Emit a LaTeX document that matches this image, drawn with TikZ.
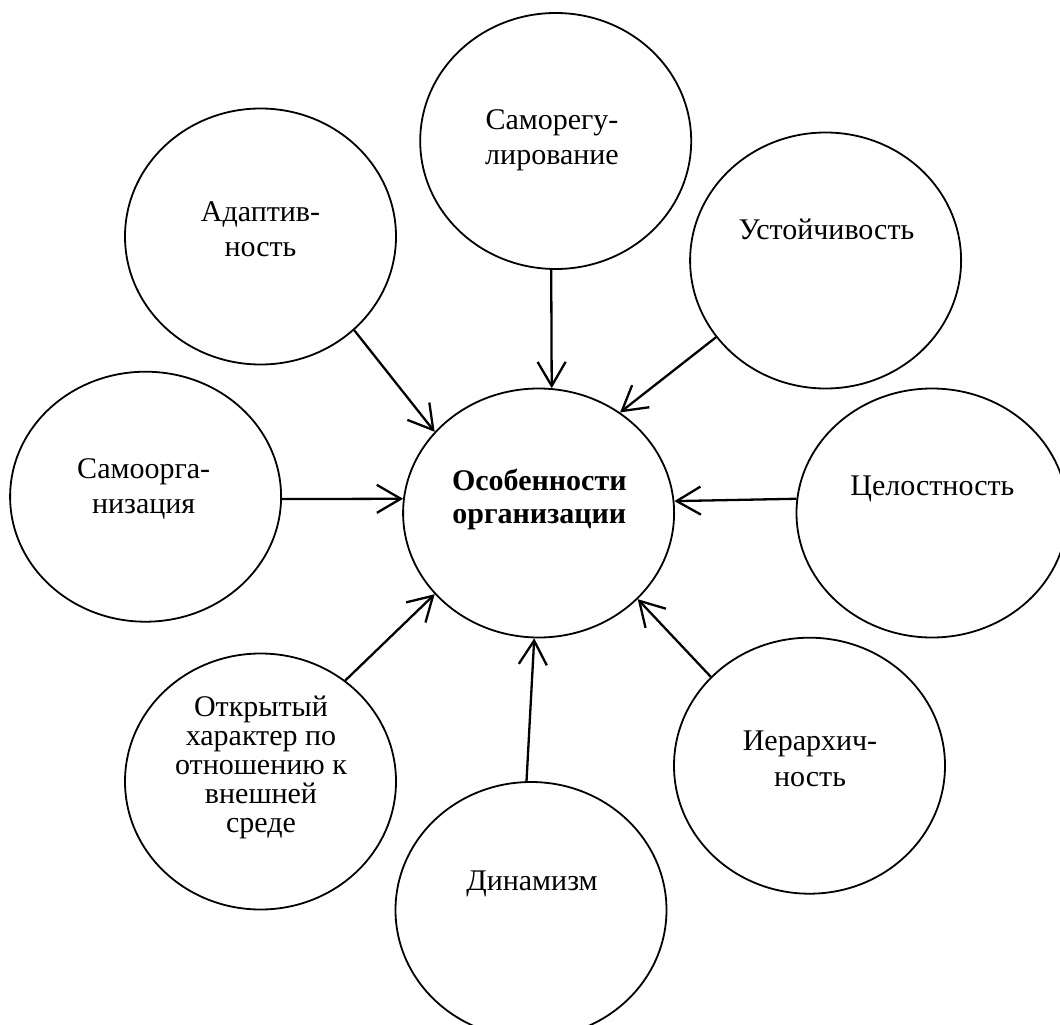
\documentclass[tikz,border=0pt]{standalone}
\usepackage{fontspec}
\setmainfont{Liberation Serif}
\usetikzlibrary{shapes.geometric,arrows.meta}
\newcommand\stackl[2]{\vtop{\baselineskip=#1\relax\halign{\hfil##\hfil\cr#2\crcr}}}
\begin{document}
\begin{tikzpicture}[x=1pt,y=-1pt,
  circ/.style={draw, line width=1.8pt, ellipse, minimum width=271pt, minimum height=256pt, inner sep=0pt},
  lbl/.style={anchor=base, inner sep=0pt, font=\fontsize{30pt}{35pt}\selectfont},
  arr/.style={line width=2.3pt, -{Straight Barb[length=24pt,width=28pt,line width=2.3pt]}}]
\useasboundingbox (0,0) rectangle (1060,1025);
\clip (0,0) rectangle (1060,1025);
% circles
\node[circ] (A) at (260.5,236.5) {};
\node[circ] (S) at (555.7,141) {};
\node[circ] (U) at (825.6,260.5) {};
\node[circ, minimum height=250pt] (O) at (145.6,496.7) {};
\node[circ, minimum height=249pt] (C) at (538.6,513) {};
\node[circ, minimum height=249pt] (Z) at (932,513) {};
\node[circ] (K) at (260.5,781.5) {};
\node[circ] (D) at (531,910) {};
\node[circ] (H) at (809.5,765.7) {};
% labels
\node[lbl] (tA) at (260.5,221) {\stackl{35.5pt}{Адаптив-\cr ность}};
\node[lbl] (tS) at (552,129) {\stackl{35.5pt}{Саморегу-\cr лирование}};
\node[lbl] (tU) at (826.5,239) {Устойчивость};
\node[lbl] (tO) at (143.7,478) {\stackl{35.5pt}{Самоорга-\cr низация}};
\node[lbl, font=\fontsize{30pt}{35pt}\selectfont\bfseries] (tC) at (539.3,490) {\stackl{33pt}{Особенности\cr организации}};
\node[lbl] (tZ) at (932.4,495) {Целостность};
\node[lbl] (tK) at (261,716.4) {\stackl{29pt}{Открытый\cr характер по\cr отношению к\cr внешней\cr среде}};
\node[lbl] (tD) at (532,890) {Динамизм};
\node[lbl] (tH) at (810,750) {\stackl{36.5pt}{Иерархич-\cr ность}};
% arrows
\draw[arr] (A.-45.6) -- (C.142.2);
\draw[arr] (S.-92) -- (C.84);
\draw[arr] (U.-145.7) -- (C.51.6);
\draw[arr] (Z.174.5) -- (C.5.6);
\draw[arr] (O.-1.4) -- (C.174.5);
\draw[arr] (K.50.6) -- (C.-142.6);
\draw[arr] (D.92) -- (C.-92);
\draw[arr] (H.138.7) -- (C.-41.8);
\end{tikzpicture}
\end{document}
